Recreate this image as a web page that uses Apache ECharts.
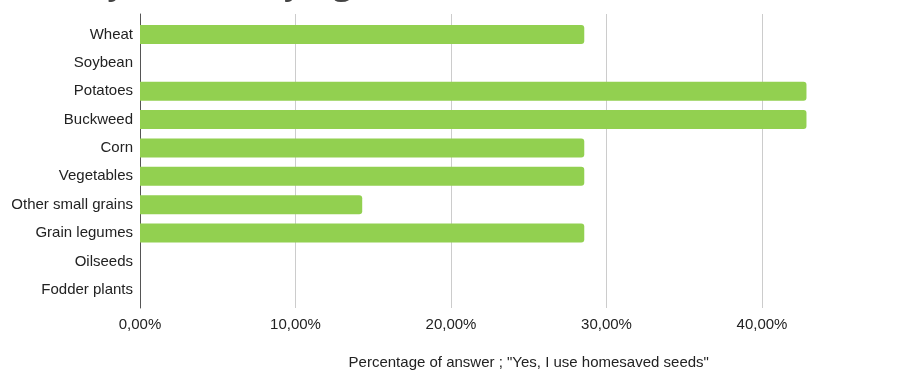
<!DOCTYPE html>
<html>
<head>
<meta charset="utf-8">
<script src="https://cdn.jsdelivr.net/npm/echarts@6/dist/echarts.min.js"></script>
<style>
  html, body { margin: 0; padding: 0; background: #fff; }
  #chart { width: 906px; height: 370px; }
</style>
</head>
<body>
<div id="chart"></div>
<script>
// Crops and share of respondents saving their own seed for each (percent)
const crops = ['Wheat', 'Soybean', 'Potatoes', 'Buckweed', 'Corn', 'Vegetables',
  'Other small grains', 'Grain legumes', 'Oilseeds', 'Fodder plants'];
const shares = [28.57, 0, 42.86, 42.86, 28.57, 28.57, 14.29, 28.57, 0, 0];
const xTicks = { min: 0, max: 50, step: 10 };
const titleText = 'Are you still relying on homesaved seeds?';
const xAxisTitle = 'Percentage of answer ; "Yes, I use homesaved seeds"';

const font = 'Liberation Sans, Arial, sans-serif';
const pct = v => v.toFixed(2).replace('.', ',') + '%';

const chart = echarts.init(document.getElementById('chart'));
chart.setOption({
  animation: false,
  title: {
    text: titleText,
    left: 38,
    top: -38,
    textStyle: { fontFamily: 'Open Sans, sans-serif', fontSize: 35, fontWeight: 'normal', color: '#444' }
  },
  grid: [
    // frame: gridlines, value labels, vertical axis line (runs past the right edge)
    { left: 140, width: 777.5, top: 14, height: 294, outerBoundsMode: 'none' },
    // plot band holding the categories and bars
    { left: 140, width: 777.5, top: 20.3, height: 283.6, outerBoundsMode: 'none' }
  ],
  xAxis: [
    {
      gridIndex: 0, type: 'value', min: xTicks.min, max: xTicks.max, interval: xTicks.step,
      axisLine: { show: false }, axisTick: { show: false },
      splitLine: { show: true, lineStyle: { color: '#cccccc', width: 1 } },
      axisLabel: { formatter: pct, margin: 9, color: '#222', fontFamily: font, fontSize: 15, showMaxLabel: false },
      name: xAxisTitle, nameLocation: 'middle', nameGap: 47,
      nameTextStyle: { color: '#222', fontFamily: font, fontSize: 15 }
    },
    { gridIndex: 1, type: 'value', min: xTicks.min, max: xTicks.max, show: false }
  ],
  yAxis: [
    {
      gridIndex: 0, type: 'value', min: 0, max: 1,
      axisLine: { show: true, lineStyle: { color: '#555', width: 1 } },
      axisTick: { show: false }, axisLabel: { show: false }, splitLine: { show: false }
    },
    {
      gridIndex: 1, type: 'category', data: crops, inverse: true,
      axisLine: { show: false }, axisTick: { show: false }, splitLine: { show: false },
      axisLabel: { margin: 7, color: '#222', fontFamily: font, fontSize: 15 }
    }
  ],
  series: [{
    type: 'bar', xAxisIndex: 1, yAxisIndex: 1, data: shares,
    barCategoryGap: '33%',
    itemStyle: { color: '#92d050', borderRadius: [0, 3, 3, 0] }
  }]
});
</script>
</body>
</html>
